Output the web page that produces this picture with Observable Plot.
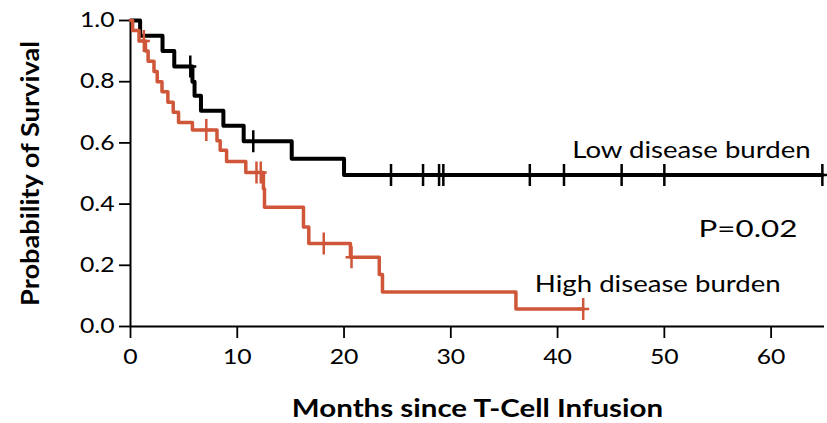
<!DOCTYPE html>
<html>
<head>
<meta charset="utf-8">
<script src="https://cdn.jsdelivr.net/npm/d3@7"></script>
<script src="https://cdn.jsdelivr.net/npm/@observablehq/plot@0.6"></script>
<style>
  html, body { margin: 0; padding: 0; background: #fff; }
</style>
</head>
<body>
<div id="chart"></div>
<script>
// ---- Data ----
const xTicks = [0, 10, 20, 30, 40, 50, 60];
const yTicks = [0, 0.2, 0.4, 0.6, 0.8, 1.0];

// Low disease burden: event times (months) and survival after each step
const lowTimes = [0, 0.9, 3.0, 4.1, 5.8, 6.0, 6.6, 8.7, 10.6, 15.1, 20.0, 64.8];
const lowSurv  = [1.0, 0.95, 0.90, 0.85, 0.80, 0.754, 0.705, 0.656, 0.605, 0.548, 0.495, 0.495];
const lowCensored = [5.6, 11.5, 24.4, 27.4, 28.9, 29.3, 37.4, 40.6, 46.0, 50.0, 64.8];

// High disease burden
const highTimes = [0, 0.2, 0.8, 1.4, 1.65, 2.2, 2.5, 2.95, 3.5, 4.0, 4.5, 5.8, 8.1, 8.4, 9.0, 10.8, 12.45, 12.55, 16.2, 16.7, 20.6, 23.3, 23.6, 36.1, 42.4];
const highSurv  = [1.0, 0.967, 0.933, 0.9, 0.867, 0.833, 0.80, 0.767, 0.733, 0.70, 0.667, 0.642, 0.607, 0.576, 0.539, 0.503, 0.45, 0.39, 0.325, 0.271, 0.226, 0.17, 0.113, 0.057, 0.057];
const highCensored = [1.25, 7.1, 11.8, 12.2, 18.1, 20.7, 42.4];

const groupNames = ["Low disease burden", "High disease burden"];
const pValueText = "P=0.02";
const xTitle = "Months since T-Cell Infusion";
const yTitle = "Probability of Survival";

// ---- Build tables ----
const toRows = (ts, ss) => ts.map((t, i) => ({t, s: ss[i]}));
const stepAt = (ts, ss, t) => { let v = ss[0]; for (let i = 0; i < ts.length; i++) if (ts[i] <= t) v = ss[i]; return v; };
const lowRows = toRows(lowTimes, lowSurv);
const highRows = toRows(highTimes, highSurv);
const lowCens = lowCensored.map(t => ({t, s: stepAt(lowTimes, lowSurv, t)}));
const highCens = highCensored.map(t => ({t, s: stepAt(highTimes, highSurv, t)}));

const RED = "#cf5639";
const plusSym = {
  draw(ctx) {
    ctx.moveTo(0, -11); ctx.lineTo(0, 11);
    ctx.moveTo(-6, 0); ctx.lineTo(6, 0);
  }
};

const chart = Plot.plot({
  width: 827,
  height: 423,
  marginLeft: 130,
  marginRight: 3,
  marginTop: 20,
  marginBottom: 97,
  style: {fontFamily: "Lato, 'Open Sans', sans-serif", fontSize: "21px", color: "#000", background: "#fff", overflow: "visible"},
  x: {domain: [0, 65]},
  y: {domain: [0, 1]},
  marks: [
    Plot.axisX({ticks: xTicks, tickSize: 12, tickPadding: 11, strokeWidth: 1.8, label: null, fontSize: 21}),
    Plot.axisY({ticks: yTicks, tickFormat: d3.format(".1f"), tickSize: 11, tickPadding: 5, strokeWidth: 1.8, label: null, fontSize: 21}),
    Plot.ruleX([0], {strokeWidth: 2}),
    Plot.ruleY([0], {strokeWidth: 2}),
    Plot.line(lowRows, {x: "t", y: "s", curve: "step-after", stroke: "#000", strokeWidth: 4}),
    Plot.dot(lowCens, {x: "t", y: "s", symbol: plusSym, stroke: "#000", strokeWidth: 2.5, fill: "none"}),
    Plot.line(highRows, {x: "t", y: "s", curve: "step-after", stroke: RED, strokeWidth: 3.5}),
    Plot.dot(highCens, {x: "t", y: "s", symbol: plusSym, stroke: RED, strokeWidth: 2.5, fill: "none"}),
    Plot.text([groupNames[0]], {x: 63.7, y: 0.575, text: d => d, textAnchor: "end", fontSize: 23, className: "anno"}),
    Plot.text([pValueText], {x: 62.45, y: 0.318, text: d => d, textAnchor: "end", fontSize: 23, className: "pval"}),
    Plot.text([groupNames[1]], {x: 60.9, y: 0.138, text: d => d, textAnchor: "end", fontSize: 23, className: "anno"}),
    Plot.text([xTitle], {frameAnchor: "bottom", dy: 90, text: d => d, fontSize: 25, fontWeight: "bold"}),
    Plot.text([yTitle], {frameAnchor: "left", dx: -100, rotate: -90, textAnchor: "middle", text: d => d, fontSize: 25, fontWeight: "bold"})
  ]
});

// Widen glyphs along the reading direction, like the reference typeface
chart.querySelectorAll("text").forEach(t => {
  const tr = t.getAttribute("transform") || "";
  const g = t.closest("g");
  const cls = g ? (g.getAttribute("class") || "") : "";
  let s = 1.18;
  if (/rotate/.test(tr)) s = 1.09;
  else if (/pval/.test(cls)) s = 1.36;
  else if (/anno/.test(cls)) s = 1.2;
  t.setAttribute("transform", (tr + ` scale(${s},1)`).trim());
});

document.getElementById("chart").appendChild(chart);
</script>
</body>
</html>
